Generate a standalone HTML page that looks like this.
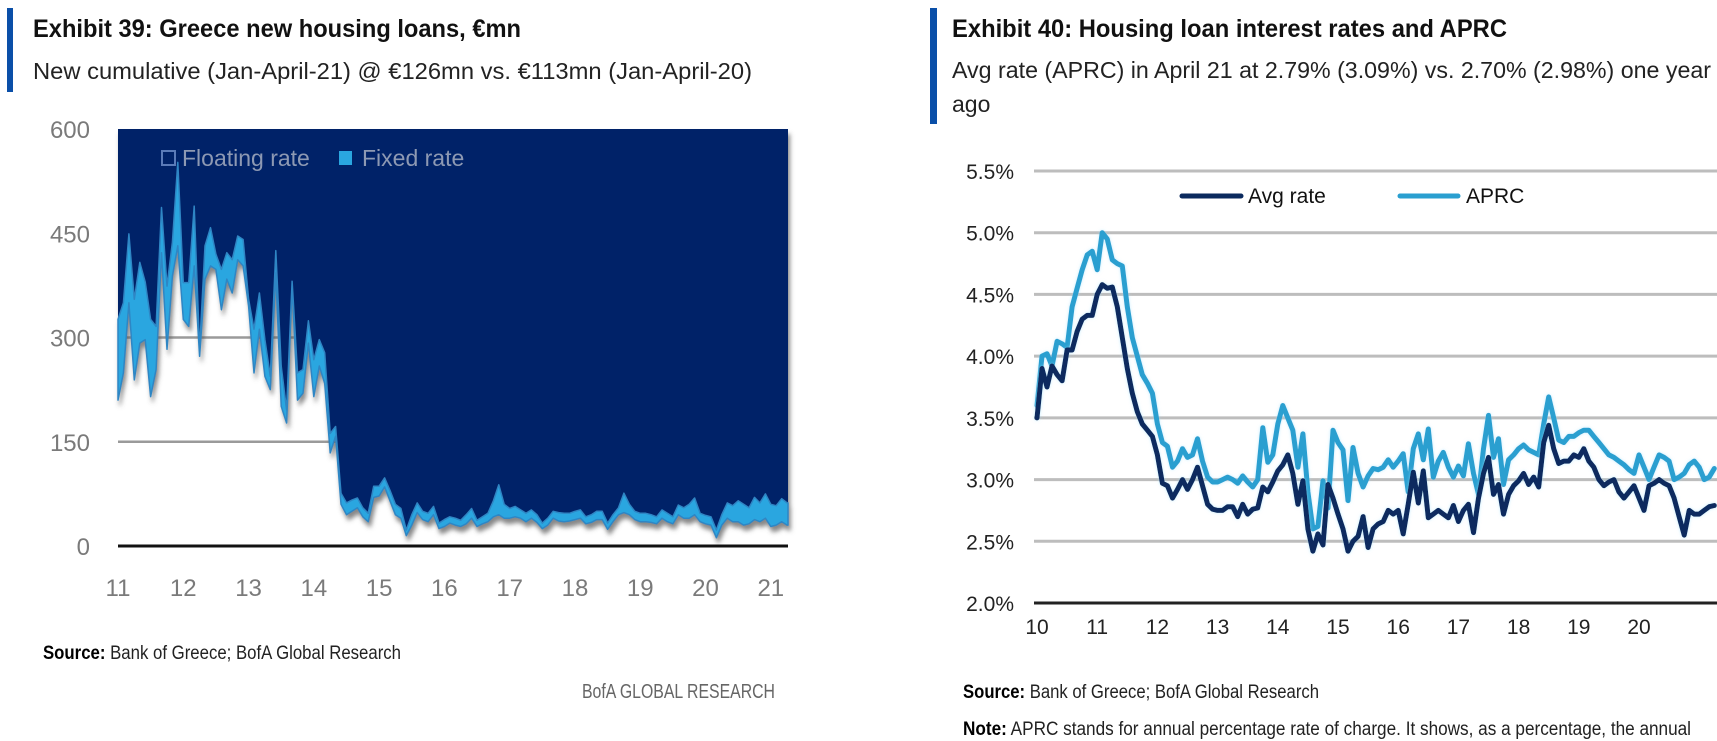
<!DOCTYPE html>
<html><head><meta charset="utf-8"><style>
html,body{margin:0;padding:0;background:#fff;}
svg{display:block;}
text{font-family:"Liberation Sans Narrow","Liberation Sans",sans-serif;}
</style></head><body>
<svg id="page" width="1717" height="741" viewBox="0 0 1717 741" xmlns="http://www.w3.org/2000/svg">
<defs>
<filter id="sh" x="-5%" y="-5%" width="110%" height="120%"><feDropShadow dx="2" dy="5" stdDeviation="2.5" flood-color="#555" flood-opacity="0.7"/></filter>
<filter id="glow" x="-5%" y="-5%" width="110%" height="110%"><feDropShadow dx="0" dy="0" stdDeviation="1.5" flood-color="#9fe0ff" flood-opacity="0.6"/></filter>
</defs>
<!-- Left header -->
<rect x="7" y="8" width="6" height="84" fill="#0a4fa8"/>
<text x="33" y="37" font-size="25" font-weight="bold" fill="#111" textLength="488" lengthAdjust="spacingAndGlyphs">Exhibit 39: Greece new housing loans, €mn</text>
<text x="33" y="79" font-size="23" fill="#222" textLength="719" lengthAdjust="spacingAndGlyphs">New cumulative (Jan-April-21) @ €126mn vs. €113mn (Jan-April-20)</text>
<g id="left-chart"></g>
<text x="43" y="659" font-size="19" fill="#222" textLength="358" lengthAdjust="spacingAndGlyphs"><tspan font-weight="bold" fill="#000">Source:</tspan> Bank of Greece; BofA Global Research</text>
<text x="582" y="698" font-size="20" fill="#666" textLength="193" lengthAdjust="spacingAndGlyphs">BofA GLOBAL RESEARCH</text>
<!-- Right header -->
<rect x="930" y="8" width="7" height="116" fill="#0a4fa8"/>
<text x="952" y="37" font-size="25" font-weight="bold" fill="#111" textLength="555" lengthAdjust="spacingAndGlyphs">Exhibit 40: Housing loan interest rates and APRC</text>
<text x="952" y="78" font-size="23" fill="#222" textLength="759" lengthAdjust="spacingAndGlyphs">Avg rate (APRC) in April 21 at 2.79% (3.09%) vs. 2.70% (2.98%) one year</text>
<text x="952" y="112" font-size="23" fill="#222">ago</text>
<g id="right-chart"></g>
<text x="963" y="698" font-size="19" fill="#222" textLength="356" lengthAdjust="spacingAndGlyphs"><tspan font-weight="bold" fill="#000">Source:</tspan> Bank of Greece; BofA Global Research</text>
<text x="963" y="735" font-size="19" fill="#222" textLength="728" lengthAdjust="spacingAndGlyphs"><tspan font-weight="bold" fill="#000">Note:</tspan> APRC stands for annual percentage rate of charge. It shows, as a percentage, the annual</text>
</svg>
<script>
// ---- Left chart data (monthly Jan-2011 .. Apr-2021, €mn) ----
const loanYears = ["11","12","13","14","15","16","17","18","19","20","21"];
const loanTicks = [0,150,300,450,600];
const totalLoans = [326,350,449,355,408,380,326,316,487,374,437,552,379,379,489,283,432,458,420,398,422,412,446,441,355,312,364,297,244,425,259,196,381,249,254,324,268,297,278,162,172,76,62,66,69,55,47,86,86,98,80,60,54,23,45,62,50,47,57,33,38,42,40,37,45,54,37,42,47,65,88,60,54,57,52,47,52,45,33,40,50,48,47,47,50,52,42,45,50,50,33,45,55,76,60,50,47,47,45,42,52,47,42,59,55,60,69,47,44,42,23,45,62,58,65,60,55,70,62,75,60,58,68,62];
const floatingLoans = [210,249,350,239,292,297,215,254,422,283,388,432,326,316,403,273,384,403,398,340,384,364,412,403,345,249,312,244,225,393,201,177,374,210,220,292,215,259,234,134,158,60,45,50,55,42,35,70,72,85,65,45,40,15,30,48,38,35,45,25,28,33,30,28,32,40,28,32,35,42,45,40,40,42,40,35,40,34,25,30,40,36,35,36,38,40,32,34,38,38,24,35,45,48,45,38,35,35,34,32,40,35,32,45,40,40,45,35,32,30,12,30,40,35,35,30,32,38,35,40,28,30,35,30];
// ---- Right chart data (monthly Jan-2010 .. Apr-2021, %) ----
const rateYears = ["10","11","12","13","14","15","16","17","18","19","20"];
const rateTicks = [2.0,2.5,3.0,3.5,4.0,4.5,5.0,5.5];
const avgRate = [3.50,3.90,3.75,3.92,3.85,3.80,4.05,4.05,4.20,4.30,4.33,4.33,4.50,4.58,4.55,4.56,4.40,4.15,3.90,3.70,3.55,3.45,3.40,3.35,3.20,2.97,2.95,2.85,2.92,3.00,2.92,3.00,3.10,2.95,2.80,2.76,2.75,2.75,2.78,2.78,2.70,2.80,2.72,2.76,2.77,2.94,2.90,2.98,3.07,3.12,3.20,3.05,2.80,2.99,2.60,2.42,2.56,2.47,2.96,2.85,2.72,2.60,2.42,2.50,2.54,2.70,2.45,2.60,2.64,2.66,2.75,2.72,2.75,2.56,2.80,3.06,2.81,3.07,2.69,2.72,2.75,2.72,2.69,2.79,2.66,2.75,2.80,2.57,2.85,3.05,3.18,2.88,2.96,2.72,2.88,2.95,2.99,3.05,2.96,3.02,2.94,3.30,3.44,3.25,3.13,3.15,3.15,3.20,3.18,3.25,3.15,3.10,3.00,2.95,2.98,3.00,2.90,2.85,2.90,2.95,2.85,2.75,2.95,2.97,3.00,2.97,2.95,2.85,2.70,2.55,2.75,2.72,2.72,2.75,2.78,2.79];
const aprc = [3.60,4.00,4.02,3.92,4.12,4.10,4.07,4.40,4.55,4.70,4.82,4.85,4.70,5.00,4.95,4.78,4.75,4.73,4.40,4.15,4.00,3.85,3.78,3.70,3.45,3.30,3.27,3.10,3.15,3.25,3.18,3.20,3.33,3.15,3.02,2.98,2.98,3.00,3.02,3.00,2.97,3.03,2.98,2.94,3.00,3.42,3.14,3.20,3.45,3.60,3.50,3.40,3.10,3.37,2.90,2.60,2.62,2.99,2.77,3.40,3.30,3.24,2.83,3.26,3.05,2.94,3.03,3.09,3.08,3.10,3.16,3.10,3.15,3.21,2.90,3.25,3.37,3.16,3.41,3.02,3.15,3.22,3.10,3.02,3.11,3.03,3.29,3.05,2.88,3.25,3.52,3.18,3.33,2.96,3.16,3.20,3.25,3.28,3.24,3.22,3.20,3.45,3.67,3.50,3.32,3.30,3.35,3.35,3.38,3.40,3.40,3.35,3.30,3.25,3.20,3.18,3.15,3.12,3.08,3.05,3.20,3.10,3.00,3.10,3.20,3.18,3.15,3.00,3.02,3.05,3.12,3.15,3.10,3.00,3.02,3.09];

const NS = "http://www.w3.org/2000/svg";
function mk(tag, attrs, parent){ const e=document.createElementNS(NS,tag); for(const k in attrs) e.setAttribute(k,attrs[k]); parent.appendChild(e); return e; }

// ---------- LEFT ----------
(function(){
  const g = document.getElementById('left-chart');
  const L=118, R=788, T=129, B=546, maxV=600;
  const monthW = 5.44;
  const xL = m => L + m*monthW;
  const yL = v => B - v/maxV*(B-T);
  loanTicks.forEach(t=>{
    if(t>0 && t<maxV){
      const ln = mk('line',{x1:L,x2:R,y1:yL(t),y2:yL(t),stroke:'#9a9a9a','stroke-width':2.5},g);
      
      
    }
    const tx = mk('text',{x:90,y:yL(t)+9,'text-anchor':'end','font-size':24,fill:'#7a7a7a'},g);
    
    
    tx.textContent = t;
  });
  const n = totalLoans.length;
  const grp = mk('g',{filter:'url(#sh)'},g);
  
  
  let d = `M${L},${T} `;
  for(let i=0;i<n;i++) d += `L${xL(i).toFixed(1)},${yL(totalLoans[i]).toFixed(1)} `;
  d += `L${R},${yL(totalLoans[n-1]).toFixed(1)} L${R},${T} Z`;
  const navy = mk('path',{d:d,fill:'#062068'},grp);
  
  
  let d2 = '';
  for(let i=0;i<n;i++) d2 += (i?'L':'M')+`${xL(i).toFixed(1)},${yL(totalLoans[i]).toFixed(1)} `;
  d2 += `L${R},${yL(totalLoans[n-1]).toFixed(1)} L${R},${yL(floatingLoans[n-1]).toFixed(1)} `;
  for(let i=n-1;i>=0;i--) d2 += `L${xL(i).toFixed(1)},${yL(floatingLoans[i]).toFixed(1)} `;
  d2 += 'Z';
  const band = mk('path',{d:d2,fill:'#2aa6e0',stroke:'#2f86c4','stroke-width':1.5,'stroke-linejoin':'round'},grp);
  
  
  const ax = mk('line',{x1:L,x2:R,y1:B,y2:B,stroke:'#111','stroke-width':3},g);
  
  
  loanYears.forEach((lab,i)=>{
    const tx = mk('text',{x:xL(i*12),y:596,'text-anchor':'middle','font-size':24,fill:'#7a7a7a'},g);
    
    
    tx.textContent = lab;
  });
  const l1 = mk('rect',{x:162,y:151,width:13,height:14,fill:'none',stroke:'#5b7bb8','stroke-width':2},g);
  
  
  const t1 = mk('text',{x:182,y:166,'font-size':23,fill:'#8d99b3'},g);
  
  
  t1.textContent='Floating rate';
  const l2 = mk('rect',{x:339,y:151,width:13,height:14,fill:'#2aa6e0'},g);
  
  
  const t2 = mk('text',{x:362,y:166,'font-size':23,fill:'#8d99b3'},g);
  
  
  t2.textContent='Fixed rate';
})();

// ---------- RIGHT ----------
(function(){
  const g = document.getElementById('right-chart');
  const L=1034, R=1717, X0=1037, monthW=60.2/12;
  const yTop=171, yBot=603, vTop=5.5, vBot=2.0;
  const xR = m => X0 + m*monthW;
  const yR = v => yBot - (v-vBot)/(vTop-vBot)*(yBot-yTop);
  rateTicks.forEach(t=>{
    if(t>vBot){
      const ln = mk('line',{x1:L,x2:R,y1:yR(t),y2:yR(t),stroke:'#bdbdbd','stroke-width':3},g);
      
      
    }
    const tx = mk('text',{x:1014,y:yR(t)+8,'text-anchor':'end','font-size':21,fill:'#222'},g);
    
    
    tx.textContent = t.toFixed(1)+'%';
  });
  const ax = mk('line',{x1:L,x2:R,y1:yBot,y2:yBot,stroke:'#222','stroke-width':3},g);
  
  
  rateYears.forEach((lab,i)=>{
    const tx = mk('text',{x:xR(i*12),y:634,'text-anchor':'middle','font-size':21,fill:'#222'},g);
    
    
    tx.textContent = lab;
  });
  function line(arr,color,name){
    let d='';
    arr.forEach((v,i)=>{ d += (i?'L':'M')+xR(i).toFixed(1)+','+yR(v).toFixed(1)+' '; });
    const p = mk('path',{d:d,fill:'none',stroke:color,'stroke-width':5,'stroke-linejoin':'round','stroke-linecap':'round',filter:'url(#glow)'},g);
    
    
  }
  line(aprc,'#2a9fd0','aprc-line');
  line(avgRate,'#0b2a5e','avg-rate-line');
  const a1 = mk('line',{x1:1182,x2:1241,y1:196,y2:196,stroke:'#0b2a5e','stroke-width':5,'stroke-linecap':'round'},g);
  
  
  const at = mk('text',{x:1248,y:203,'font-size':21,fill:'#111'},g);
  
  
  at.textContent='Avg rate';
  const a2 = mk('line',{x1:1400,x2:1458,y1:196,y2:196,stroke:'#2a9fd0','stroke-width':5,'stroke-linecap':'round'},g);
  
  
  const bt = mk('text',{x:1466,y:203,'font-size':21,fill:'#111'},g);
  
  
  bt.textContent='APRC';
})();
</script>
</body></html>
